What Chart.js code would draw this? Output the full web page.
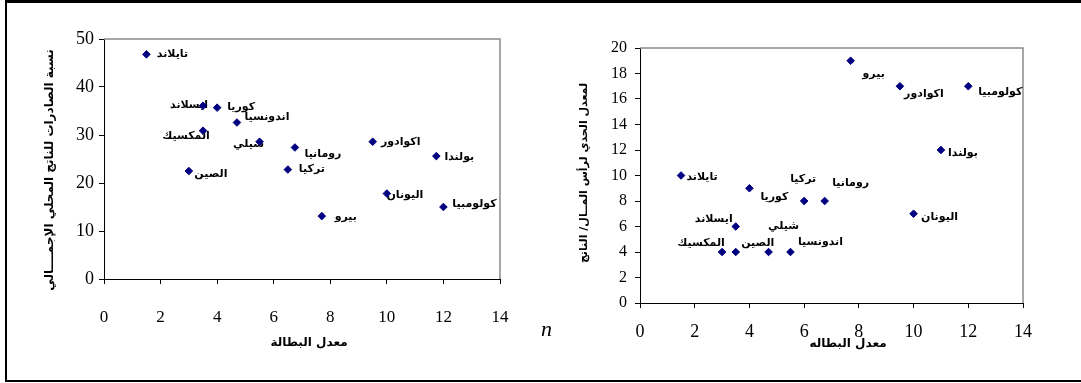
<!DOCTYPE html>
<html lang="ar">
<head>
<meta charset="utf-8">
<title>البطالة والصادرات ومعدل رأس المال</title>
<script src="https://cdn.jsdelivr.net/npm/chart.js@4"></script>
<style>
  html, body { margin: 0; padding: 0; background: #fff; }
  #page { position: relative; width: 1081px; height: 383px; overflow: hidden; background: #fff; }
  #left  { position: absolute; left: 0;     top: 0; }
  #right { position: absolute; left: 540px; top: 0; }
  .rule { position: absolute; background: #000; }
  .stray { position: absolute; left: 541px; top: 316px; font: italic 22px "Liberation Serif", serif; color: #000; }
</style>
</head>
<body>
<div id="page">
  <canvas id="left" width="540" height="383"></canvas>
  <canvas id="right" width="541" height="383"></canvas>
  <div class="rule" style="left:5px;top:0;width:1076px;height:3px;"></div>
  <div class="rule" style="left:5px;top:0;width:2px;height:382px;"></div>
  <div class="rule" style="left:5px;top:380px;width:1076px;height:2px;"></div>
  <div class="stray">n</div>
</div>
<script>
// ---- data: exports share of GDP vs unemployment rate ----
const namesA = ['تايلاند', 'ايسلاند', 'كوريا', 'اندونسيا', 'المكسيك', 'شيلي', 'رومانيا',
                'الصين', 'تركيا', 'اكوادور', 'بولندا', 'اليونان', 'كولومبيا', 'بيرو'];
const unemploymentA = [1.5, 3.5, 4, 4.7, 3.5, 5.5, 6.75, 3, 6.5, 9.5, 11.75, 10, 12, 7.7];
const exportShare   = [46.8, 36.1, 35.7, 32.6, 30.9, 28.6, 27.4, 22.5, 22.8, 28.6, 25.6, 17.8, 15, 13.1];

// ---- data: marginal capital/output ratio vs unemployment rate ----
const namesB = ['بيرو', 'اكوادور', 'كولومبيا', 'بولندا', 'تايلاند', 'كوريا', 'تركيا', 'رومانيا',
                'اليونان', 'ايسلاند', 'المكسيك', 'الصين', 'شيلي', 'اندونسيا'];
const unemploymentB = [7.7, 9.5, 12, 11, 1.5, 4, 6, 6.75, 10, 3.5, 3, 3.5, 4.7, 5.5];
const icor          = [19, 17, 17, 12, 10, 9, 8, 8, 7, 6, 4, 4, 4, 4];

// ---- axis ticks and titles ----
const xTickValues = [0, 2, 4, 6, 8, 10, 12, 14];
const yTicksA = [0, 10, 20, 30, 40, 50];
const yTicksB = [0, 2, 4, 6, 8, 10, 12, 14, 16, 18, 20];
const xTitleA = 'معدل البطالة';
const xTitleB = 'معدل البطاله';
const yTitleA = 'نسبة الصادرات للناتج المحلي الإجمــــالي';
const yTitleB = 'لمعدل الحدي لرأس المــال/ الناتج';

// ---- placement of the country names next to their markers (px) ----
const shiftA = [[26,0],[-14,-1],[24,0],[30,-5],[-17,5],[-11,2],[28,7],
                [22,3],[24,0],[28,0],[23,1],[18,2],[31,-3],[24,1]];
const shiftB = [[23,13],[24,8],[32,6],[22,3],[21,2],[25,9],[-1,-22],[26,-18],
                [26,3],[-22,-7],[-21,-9],[22,-9],[15,-26],[30,-10]];

const pts = (xs, ys) => xs.map((x, i) => ({ x, y: ys[i] }));

// grey frame, country names under the markers, axis titles
const scatterText = {
  id: 'scatterText',
  beforeDatasetsDraw(chart, args, o) {
    const { ctx, chartArea: a } = chart;
    ctx.save();
    ctx.strokeStyle = '#8a8a8a';
    ctx.lineWidth = 1.5;
    ctx.beginPath();
    ctx.moveTo(a.left, a.top);
    ctx.lineTo(a.right, a.top);
    ctx.lineTo(a.right, a.bottom);
    ctx.stroke();

    ctx.font = o.labelFont;
    ctx.fillStyle = '#000';
    ctx.textAlign = 'center';
    ctx.textBaseline = 'middle';
    ctx.direction = 'rtl';
    chart.getDatasetMeta(0).data.forEach((p, i) => {
      const [dx, dy] = o.shifts[i];
      ctx.fillText(o.names[i], p.x + dx, p.y + dy);
    });
    ctx.restore();
  },
  afterDraw(chart, args, o) {
    const { ctx } = chart;
    ctx.save();
    ctx.fillStyle = '#000';
    ctx.textAlign = 'center';
    ctx.textBaseline = 'middle';
    ctx.direction = 'rtl';
    ctx.font = o.xTitleFont;
    ctx.fillText(o.xTitle, o.xTitleAt[0], o.xTitleAt[1]);
    ctx.font = o.yTitleFont;
    ctx.translate(o.yTitleAt[0], o.yTitleAt[1]);
    ctx.rotate(-Math.PI / 2);
    ctx.fillText(o.yTitle, 0, 0);
    ctx.restore();
  }
};

function axis(min, max, values, pad, size, fontSize) {
  return {
    type: 'linear', min, max,
    afterBuildTicks: s => { s.ticks = values.map(v => ({ value: v })); },
    ticks: { padding: pad, color: '#000', font: { family: 'Liberation Serif', size: fontSize } },
    grid: { display: true, drawOnChartArea: false, drawTicks: true, tickLength: 5, color: '#000', lineWidth: 1 },
    border: { display: true, color: '#000', width: 1 },
    afterFit: s => { if (s.isHorizontal()) s.height = size; else s.width = size; }
  };
}

function scatter(id, data, scales, padding, text) {
  return new Chart(document.getElementById(id), {
    type: 'scatter',
    data: { datasets: [{
      data,
      pointStyle: 'rectRot',
      pointRadius: 3.8,
      pointHoverRadius: 3.8,
      borderWidth: 1,
      backgroundColor: '#000080',
      borderColor: '#000080'
    }] },
    options: {
      responsive: false,
      animation: false,
      events: [],
      layout: { padding },
      scales,
      plugins: { legend: { display: false }, tooltip: { enabled: false }, scatterText: text }
    },
    plugins: [scatterText]
  });
}

scatter('left', pts(unemploymentA, exportShare),
  { x: axis(0, 14, xTickValues, 23, 104, 17), y: axis(0, 50, yTicksA, 5, 104, 18) },
  { top: 39, right: 40, left: 0, bottom: 0 },
  { names: namesA, shifts: shiftA, labelFont: 'bold 11px "DejaVu Sans"',
    xTitleFont: 'bold 12px "DejaVu Sans"', yTitleFont: 'bold 12px "DejaVu Sans"',
    xTitle: xTitleA, xTitleAt: [309, 343], yTitle: yTitleA, yTitleAt: [50, 170] });

scatter('right', pts(unemploymentB, icor),
  { x: axis(0, 14, xTickValues, 13, 80, 18), y: axis(0, 20, yTicksB, 8, 100, 16) },
  { top: 48, right: 58, left: 0, bottom: 0 },
  { names: namesB, shifts: shiftB, labelFont: 'bold 11px "DejaVu Sans"',
    xTitleFont: 'bold 12px "DejaVu Sans"', yTitleFont: 'bold 11px "DejaVu Sans"',
    xTitle: xTitleB, xTitleAt: [308, 344], yTitle: yTitleB, yTitleAt: [44, 173] });
</script>
</body>
</html>
